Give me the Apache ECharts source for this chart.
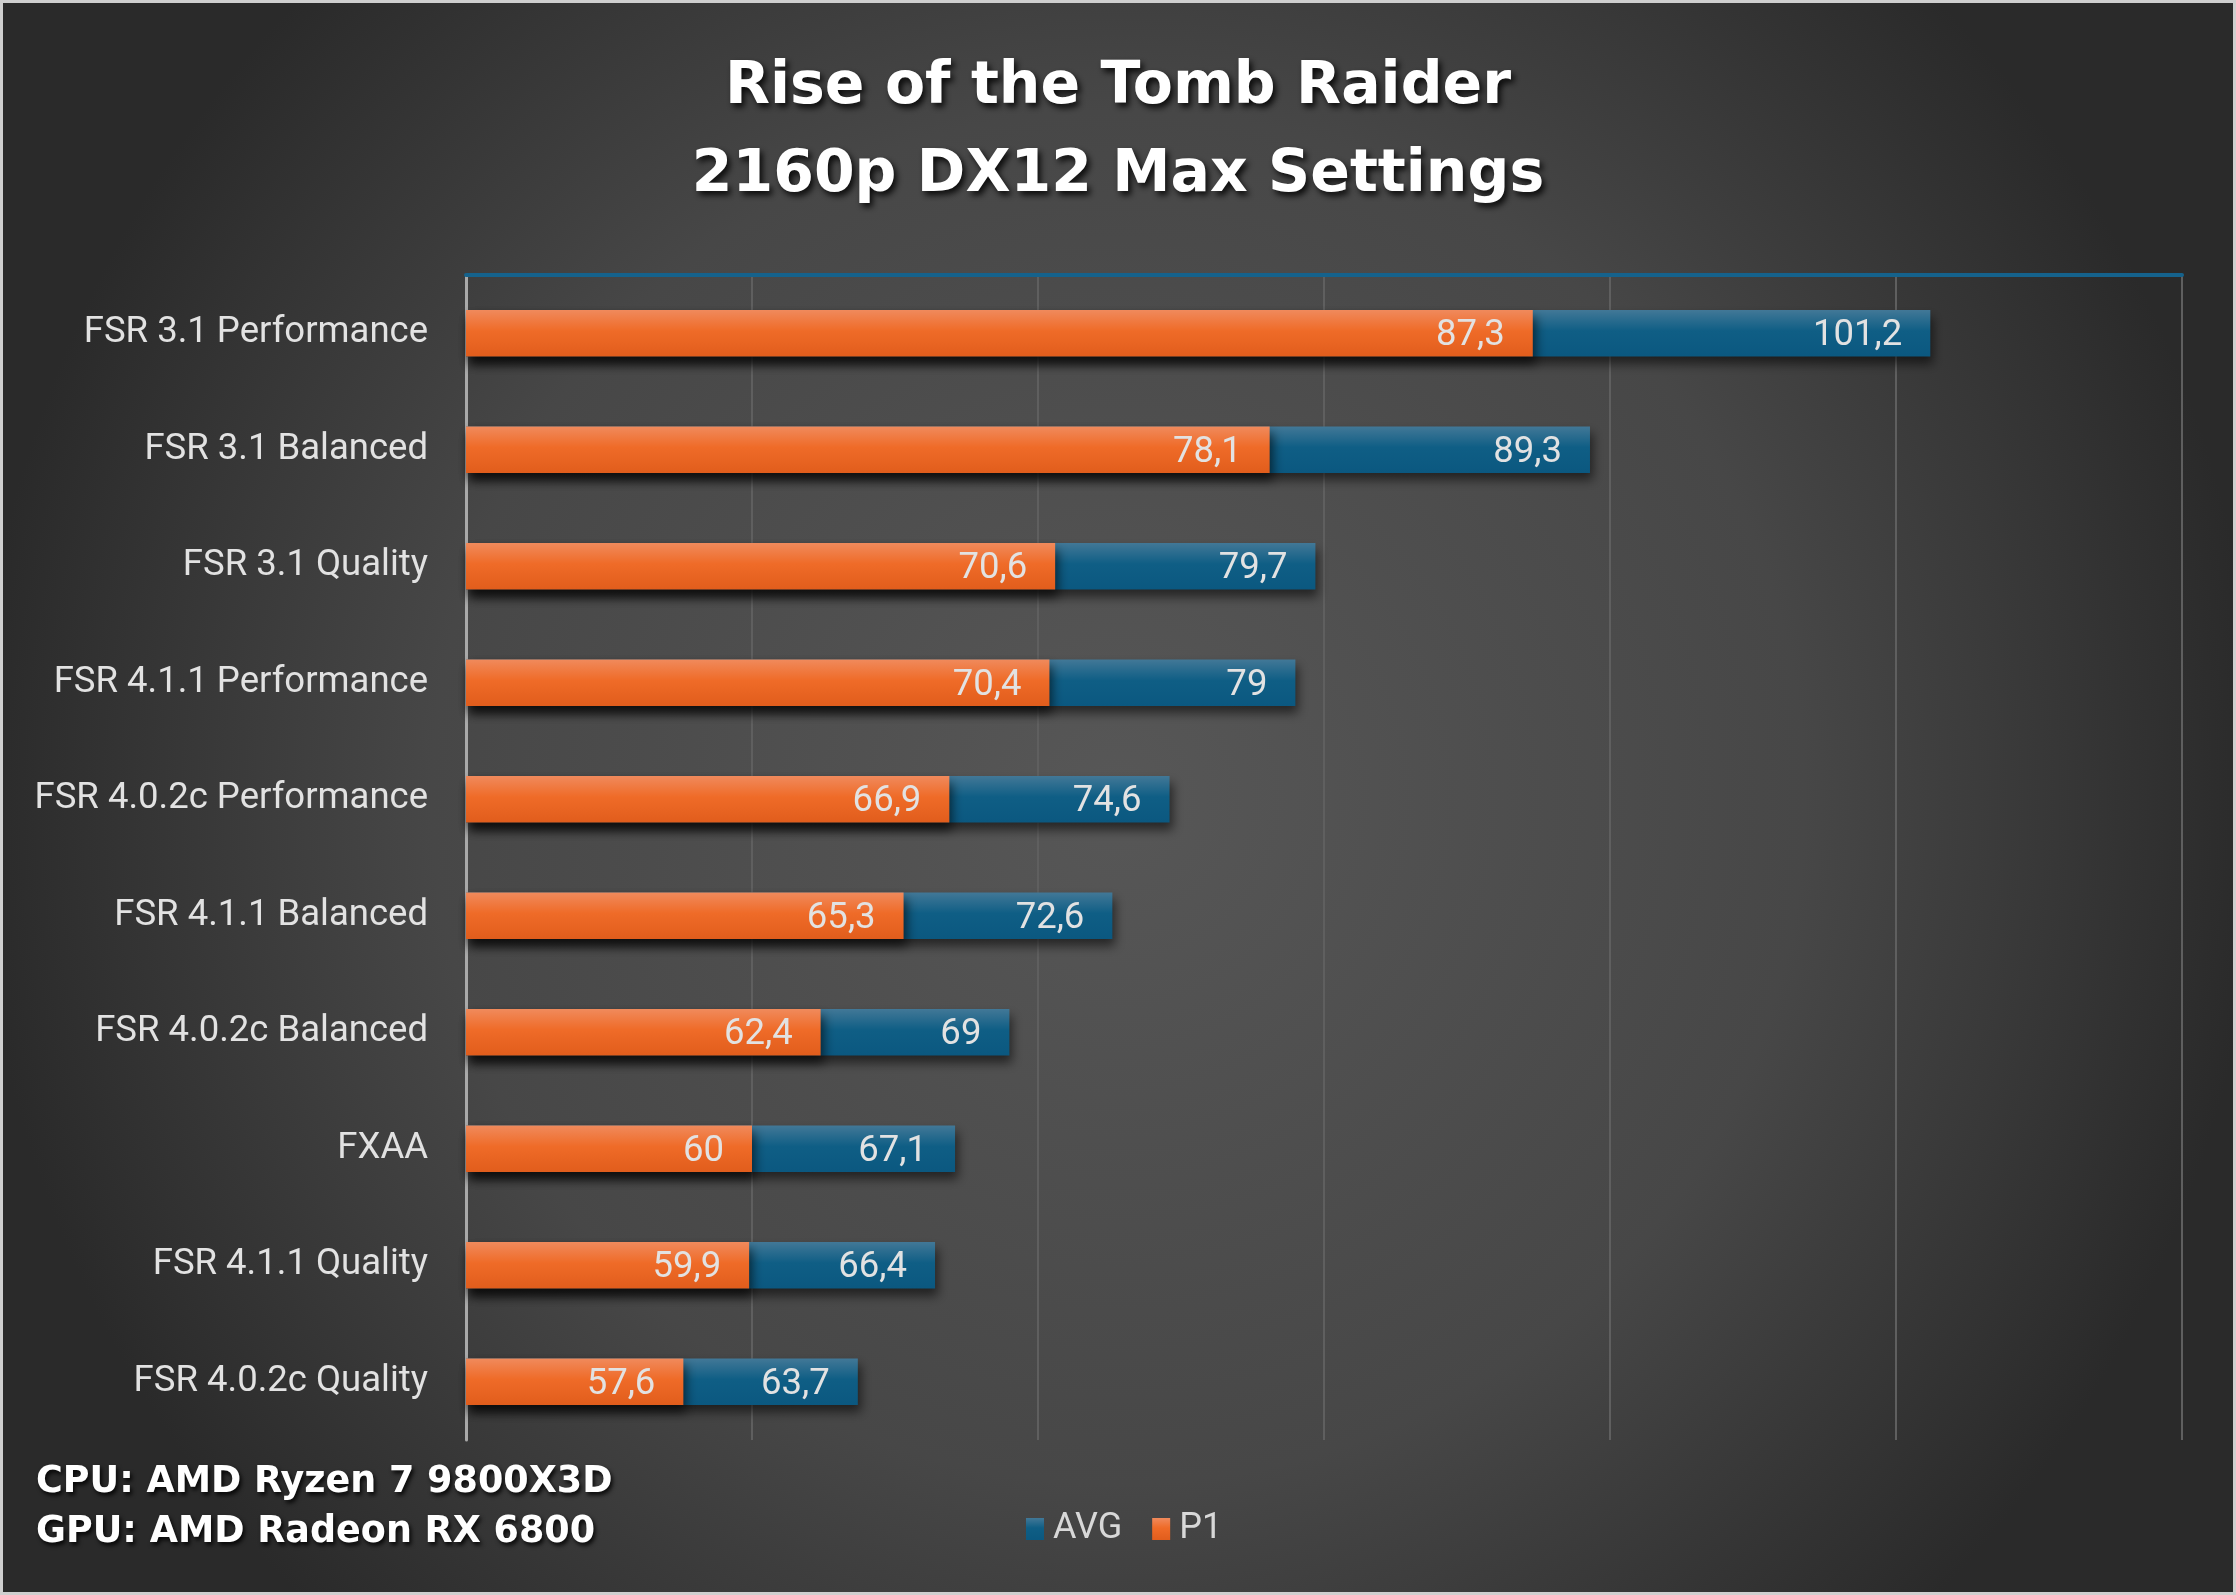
<!DOCTYPE html>
<html>
<head>
<meta charset="utf-8">
<script src="https://cdn.jsdelivr.net/npm/echarts@6/dist/echarts.min.js"></script>
<style>
html,body{margin:0;padding:0;background:#cfcfcf;}
#wrap{width:2236px;height:1595px;box-sizing:border-box;border:3px solid #cfcfcf;}
#chart{width:100%;height:100%;}
</style>
</head>
<body>
<div id="wrap"><div id="chart"></div></div>
<script>
const categories = [
  "FSR 3.1 Performance",
  "FSR 3.1 Balanced",
  "FSR 3.1 Quality",
  "FSR 4.1.1 Performance",
  "FSR 4.0.2c Performance",
  "FSR 4.1.1 Balanced",
  "FSR 4.0.2c Balanced",
  "FXAA",
  "FSR 4.1.1 Quality",
  "FSR 4.0.2c Quality"
];
const avgValues = [101.2, 89.3, 79.7, 79, 74.6, 72.6, 69, 67.1, 66.4, 63.7];
const p1Values  = [87.3, 78.1, 70.6, 70.4, 66.9, 65.3, 62.4, 60, 59.9, 57.6];
const titleLines = ["Rise of the Tomb Raider", "2160p DX12 Max Settings"];
const footLines = ["CPU: AMD Ryzen 7 9800X3D", "GPU: AMD Radeon RX 6800"];

const chart = echarts.init(document.getElementById('chart'));
const fmt = p => String(p.value).replace('.', ',');
const labelStyle = {
  show: true, position: 'insideRight', distance: 28, offset: [0, 3],
  color: '#e2e2e2', fontSize: 36.5, fontFamily: 'Roboto', formatter: fmt
};
chart.setOption({
  backgroundColor: {
    type: 'radial', x: 0.5, y: 0.5, r: 0.72,
    colorStops: [{offset: 0, color: '#575757'}, {offset: 0.6, color: '#474747'}, {offset: 1, color: '#2a2a2a'}]
  },
  title: {
    text: titleLines.join('\n'),
    left: 'center', top: 36,
    textStyle: {
      fontFamily: 'DejaVu Sans', fontWeight: 'bold', fontSize: 58.5, color: '#ffffff',
      lineHeight: 88,
      textShadowColor: 'rgba(0,0,0,0.85)', textShadowBlur: 6, textShadowOffsetX: 3, textShadowOffsetY: 4
    }
  },
  graphic: [{
    type: 'text', left: 33, top: 1455,
    style: {
      text: footLines.join('\n'), fill: '#ffffff',
      font: 'bold 36.5px "DejaVu Sans"', lineHeight: 50,
      textShadowColor: 'rgba(0,0,0,0.85)', textShadowBlur: 4, textShadowOffsetX: 2, textShadowOffsetY: 3
    }
  }],
  legend: {
    data: ['AVG', 'P1'],
    left: 1018, top: 1503,
    itemWidth: 18, itemHeight: 22, itemGap: 30,
    icon: 'rect',
    textStyle: {color: '#d8d8d8', fontSize: 36, fontFamily: 'Roboto', padding: [0, 0, 0, 4]}
  },
  grid: {left: 463, right: 51, top: 272, bottom: 152},
  xAxis: {
    type: 'value', min: 50, max: 110, interval: 10, position: 'top',
    axisLine: {show: true, lineStyle: {color: '#15628c', width: 4}},
    axisTick: {show: false}, axisLabel: {show: false},
    splitLine: {show: true, lineStyle: {color: '#5f5f5f', width: 2}}
  },
  yAxis: {
    type: 'category', data: categories, inverse: true,
    axisLine: {show: true, lineStyle: {color: '#a9a9a9', width: 3}},
    axisTick: {show: false},
    axisLabel: {color: '#e2e2e2', fontSize: 36.5, fontFamily: 'Roboto', margin: 38, padding: [3, 0, 0, 0]}
  },
  series: [
    {
      name: 'AVG', type: 'bar', data: avgValues, barCategoryGap: '60%', z: 2,
      itemStyle: {
        color: {type: 'linear', x: 0, y: 0, x2: 0, y2: 1,
          colorStops: [{offset: 0, color: '#427897'}, {offset: 0.45, color: '#0f5e85'}, {offset: 1, color: '#0b5880'}]},
        shadowColor: 'rgba(0,0,0,0.55)', shadowBlur: 10, shadowOffsetX: 3, shadowOffsetY: 7
      },
      label: labelStyle
    },
    {
      name: 'P1', type: 'bar', data: p1Values, barGap: '-100%', z: 3,
      itemStyle: {
        color: {type: 'linear', x: 0, y: 0, x2: 0, y2: 1,
          colorStops: [{offset: 0, color: '#f08a5c'}, {offset: 0.45, color: '#ef6b28'}, {offset: 1, color: '#e15d1c'}]},
        shadowColor: 'rgba(0,0,0,0.6)', shadowBlur: 10, shadowOffsetX: 3, shadowOffsetY: 7
      },
      label: labelStyle
    }
  ]
});
</script>
</body>
</html>
